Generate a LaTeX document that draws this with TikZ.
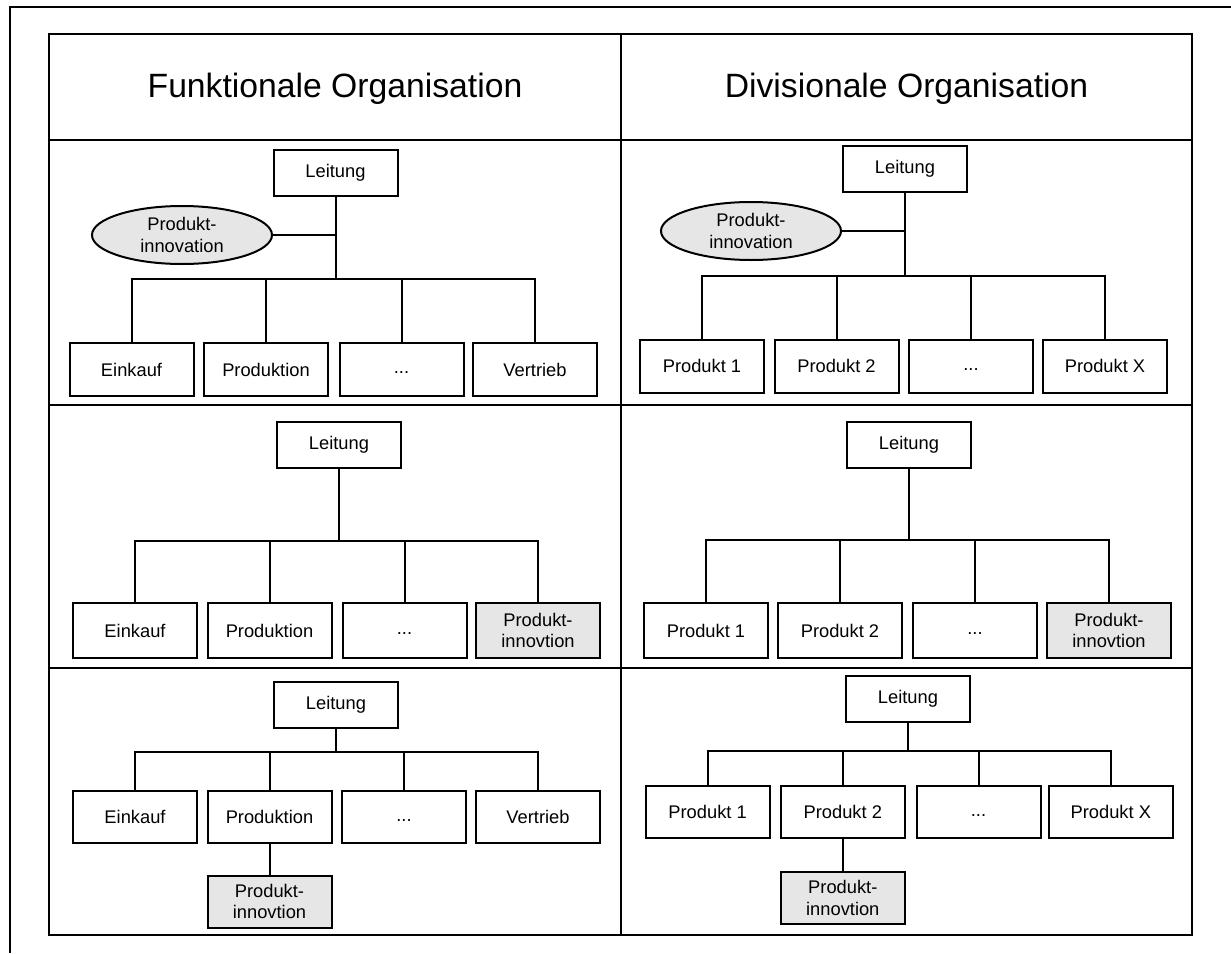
\documentclass[tikz,border=0pt]{standalone}
\usepackage{fontspec}
\setmainfont{Liberation Sans}
\usetikzlibrary{shapes.geometric}
\definecolor{boxgray}{HTML}{E6E6E6}
\newcommand{\dotslabel}{\vphantom{Ag}...}
\begin{document}
\begin{tikzpicture}[x=1pt,y=-1pt,
  orgbox/.style={draw,line width=2pt,rectangle,inner sep=0pt,minimum width=124pt,minimum height=53pt,font=\fontsize{18.3}{21.5}\selectfont,align=center},
  leadbox/.style={orgbox,minimum height=46pt},
  graybox/.style={orgbox,fill=boxgray},
  oval/.style={draw,ellipse,line width=2pt,fill=boxgray,inner sep=0pt,minimum width=180pt,minimum height=58pt,font=\fontsize{18.3}{21.5}\selectfont,align=center},
  conn/.style={line width=2pt},
  tableline/.style={line width=1.6pt},
  hdr/.style={font=\fontsize{33.7}{40}\selectfont,anchor=base}]
\useasboundingbox (0,0) rectangle (1231,953);
% outer frame
\draw[line width=2.2pt] (1231,7) -- (10,7) -- (10,953);
% table
\draw[tableline] (49,34) rectangle (1192,935);
\draw[tableline] (49,140) -- (1192,140);
\draw[tableline] (49,405) -- (1192,405);
\draw[tableline] (49,668) -- (1192,668);
\draw[tableline] (621,34) -- (621,935);
\node[hdr] (hL) at (335,97) {Funktionale Organisation};
\node[hdr] (hR) at (906.5,97) {Divisionale Organisation};

% ===== Left row 1 =====
\node[leadbox] (L1l) at (335.5,173) {Leitung};
\node[oval] (L1e) at (182,235) {Produkt-\\innovation};
\coordinate (L1j) at (335.5,279);
\node[orgbox] (L1a) at (131.5,369.5) {Einkauf};
\node[orgbox] (L1b) at (266,369.5) {Produktion};
\node[orgbox] (L1c) at (401.5,369.5) {\dotslabel};
\node[orgbox] (L1d) at (535,369.5) {Vertrieb};
\draw[conn] (L1l.south) -- (L1j);
\draw[conn] (L1e.east) -- (L1e.east -| L1l.south);
\draw[conn] (L1a.north) -- (L1a.north |- L1j) -- (L1d.north |- L1j) -- (L1d.north);
\draw[conn] (L1b.north) -- (L1b.north |- L1j);
\draw[conn] (L1c.north) -- (L1c.north |- L1j);

% ===== Right row 1 =====
\node[leadbox] (R1l) at (905,169) {Leitung};
\node[oval] (R1e) at (751,231) {Produkt-\\innovation};
\coordinate (R1j) at (905,275.7);
\node[orgbox] (R1a) at (702,366) {Produkt 1};
\node[orgbox] (R1b) at (836.5,366) {Produkt 2};
\node[orgbox] (R1c) at (971,366) {\dotslabel};
\node[orgbox] (R1d) at (1105,366) {Produkt X};
\draw[conn] (R1l.south) -- (R1j);
\draw[conn] (R1e.east) -- (R1e.east -| R1l.south);
\draw[conn] (R1a.north) -- (R1a.north |- R1j) -- (R1d.north |- R1j) -- (R1d.north);
\draw[conn] (R1b.north) -- (R1b.north |- R1j);
\draw[conn] (R1c.north) -- (R1c.north |- R1j);

% ===== Left row 2 =====
\node[leadbox] (L2l) at (339,444.5) {Leitung};
\coordinate (L2j) at (339,540.7);
\node[orgbox,minimum height=55pt] (L2a) at (135,630.5) {Einkauf};
\node[orgbox,minimum height=55pt] (L2b) at (269.5,630.5) {Produktion};
\node[orgbox,minimum height=55pt] (L2c) at (404.5,630.5) {\dotslabel};
\node[graybox,minimum height=55pt] (L2d) at (538,630.5) {Produkt-\\innovtion};
\draw[conn] (L2l.south) -- (L2j);
\draw[conn] (L2a.north) -- (L2a.north |- L2j) -- (L2d.north |- L2j) -- (L2d.north);
\draw[conn] (L2b.north) -- (L2b.north |- L2j);
\draw[conn] (L2c.north) -- (L2c.north |- L2j);

% ===== Right row 2 =====
\node[leadbox] (R2l) at (909,444.5) {Leitung};
\coordinate (R2j) at (909,540);
\node[orgbox,minimum height=55pt] (R2a) at (706,630.5) {Produkt 1};
\node[orgbox,minimum height=55pt] (R2b) at (840,630.5) {Produkt 2};
\node[orgbox,minimum height=55pt] (R2c) at (975,630.5) {\dotslabel};
\node[graybox,minimum height=55pt] (R2d) at (1109,630.5) {Produkt-\\innovtion};
\draw[conn] (R2l.south) -- (R2j);
\draw[conn] (R2a.north) -- (R2a.north |- R2j) -- (R2d.north |- R2j) -- (R2d.north);
\draw[conn] (R2b.north) -- (R2b.north |- R2j);
\draw[conn] (R2c.north) -- (R2c.north |- R2j);

% ===== Left row 3 =====
\node[leadbox] (L3l) at (336,705) {Leitung};
\coordinate (L3j) at (336,752);
\node[orgbox,minimum height=52pt] (L3a) at (135,817) {Einkauf};
\node[orgbox,minimum height=52pt] (L3b) at (269.5,817) {Produktion};
\node[orgbox,minimum height=52pt] (L3c) at (404,817) {\dotslabel};
\node[orgbox,minimum height=52pt] (L3d) at (538,817) {Vertrieb};
\node[graybox,minimum height=52pt] (L3p) at (269.5,901.5) {Produkt-\\innovtion};
\draw[conn] (L3l.south) -- (L3j);
\draw[conn] (L3a.north) -- (L3a.north |- L3j) -- (L3d.north |- L3j) -- (L3d.north);
\draw[conn] (L3b.north) -- (L3b.north |- L3j);
\draw[conn] (L3c.north) -- (L3c.north |- L3j);
\draw[conn] (L3b.south) -- (L3p.north);

% ===== Right row 3 =====
\node[leadbox] (R3l) at (908,699) {Leitung};
\coordinate (R3j) at (908,750.7);
\node[orgbox,minimum height=52pt] (R3a) at (707.6,812) {Produkt 1};
\node[orgbox,minimum height=52pt] (R3b) at (842.8,812) {Produkt 2};
\node[orgbox,minimum height=52pt] (R3c) at (978.5,812) {\dotslabel};
\node[orgbox,minimum height=52pt] (R3d) at (1110.8,812) {Produkt X};
\node[graybox,minimum height=52pt] (R3p) at (842.8,898) {Produkt-\\innovtion};
\draw[conn] (R3l.south) -- (R3j);
\draw[conn] (R3a.north) -- (R3a.north |- R3j) -- (R3d.north |- R3j) -- (R3d.north);
\draw[conn] (R3b.north) -- (R3b.north |- R3j);
\draw[conn] (R3c.north) -- (R3c.north |- R3j);
\draw[conn] (R3b.south) -- (R3p.north);
\end{tikzpicture}
\end{document}
